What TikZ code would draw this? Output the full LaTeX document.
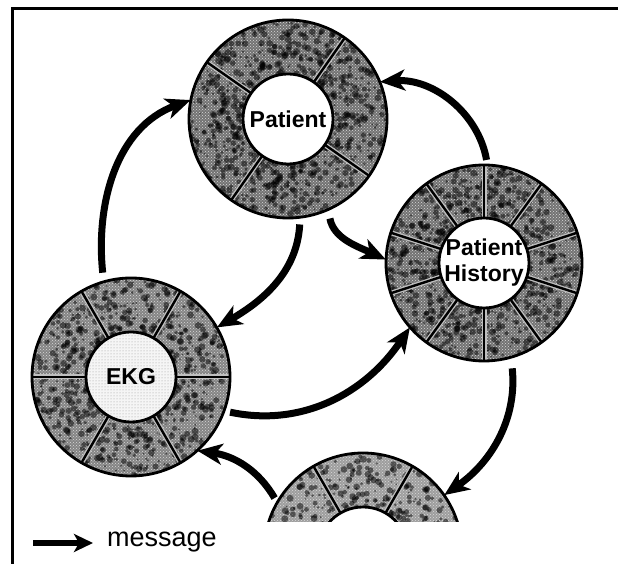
\documentclass[tikz,border=0pt]{standalone}
\usepackage{fontspec}
\setmainfont{Liberation Sans}
\usetikzlibrary{arrows.meta,patterns}

\tikzset{
  msg/.style={line width=7pt, -{Stealth[length=25pt,width=21pt,inset=7pt]}},
  legendmsg/.style={line width=6.5pt, -{Stealth[length=19pt,width=18pt,inset=5pt]}},
  ringnode/.style={circle, minimum size=198pt, inner sep=0pt, align=center,
    font=\bfseries\fontsize{23}{26}\selectfont},
  divider/.style={line width=2.4pt, black},
  dividerhalo/.style={line width=5pt, black!25},
  rim/.style={line width=2.8pt, black},
  framestyle/.style={line width=3pt, black},
}

% #1 centre, #2 outer r, #3 inner r, #4 divider angles, #5 ring gray, #6 inner fill, #7 blobs
\newcommand\ringdraw[7]{%
  \begin{scope}
    \clip (#1) circle (#2);
    \fill[#5] (#1) circle (#2);
    \fill[pattern=crosshatch dots, pattern color=white!85!black] (#1) circle (#2);
    \foreach \k in {1,...,#7}{
      \pgfmathsetmacro\ang{rnd*360}
      \pgfmathsetmacro\rad{#3+rnd*(#2-#3)}
      \pgfmathsetmacro\sz{0.7+rnd*2.8}
      \fill[black,opacity=0.5] (#1) ++(\ang:\rad) circle (\sz);
    }
  \end{scope}
  \foreach \a in {#4}{
    \draw[dividerhalo,shift={(#1)}] (\a:#3) -- (\a:#2);
    \draw[divider,shift={(#1)}] (\a:#3) -- (\a:#2);
  }
  \draw[rim] (#1) circle (#2);
  \fill[#6] (#1) circle (#3);
  \draw[rim] (#1) circle (#3);
}

\begin{document}
\begin{tikzpicture}[x=1pt,y=1pt]
\useasboundingbox (0,0) rectangle (618,564);
\fill[white] (0,0) rectangle (618,564);
\pgfmathsetseed{7}

% frame
\draw[framestyle] (12,0) -- (12,555) -- (618,555);

% centres
\coordinate (cP) at (288,445);
\coordinate (cH) at (484,301);
\coordinate (cE) at (131,187);
\coordinate (cB) at (363,12);

\ringdraw{cP}{99}{45}{55,145,235,325}{black!55}{white}{850}
\ringdraw{cH}{98}{45}{18,54,...,342}{black!55}{white}{850}
\ringdraw{cE}{99}{45}{0,60,...,300}{black!48}{black!4}{750}
\begin{scope}
  \clip (240,42) rectangle (490,130);
  \ringdraw{cB}{99}{45}{0,60,...,300}{black!38}{white}{600}
\end{scope}
\fill[pattern=dots, pattern color=black!40] (cE) circle (43);

% nodes
\node[ringnode] (pat) at (cP) {Patient};
\node[ringnode, minimum size=196pt] (hist) at (cH) {Patient\\History};
\node[ringnode] (ekg) at (cE) {EKG};
\node[ringnode] (bot) at (cB) {};

% messages
\draw[msg, shorten <=9pt] (ekg.106) to[out=96,in=200] (pat.169);
\draw[msg, shorten <=5pt] (hist.88) to[out=100,in=4] (pat.22);
\draw[msg, shorten <=7pt] (pat.-83) to[out=-93,in=30] (ekg.30);
\draw[msg, shorten <=9pt] (pat.-66) to[out=-80,in=155] (hist.178);
\draw[msg, shorten <=6pt] (ekg.-20) to[out=-12,in=236] (hist.221);
\draw[msg, shorten <=11pt] (hist.-74) to[out=-84,in=35] (bot.35);
\draw[msg, shorten <=5pt] (bot.150) to[out=120,in=-8] (ekg.-48);

% legend
\coordinate (legA) at (33,21);
\coordinate (legB) at (93,21);
\draw[legendmsg] (legA) -- (legB);
\node[anchor=west, inner sep=0pt, font=\fontsize{27}{30}\selectfont] (legtext) at (107,22) {message};
\end{tikzpicture}
\end{document}
